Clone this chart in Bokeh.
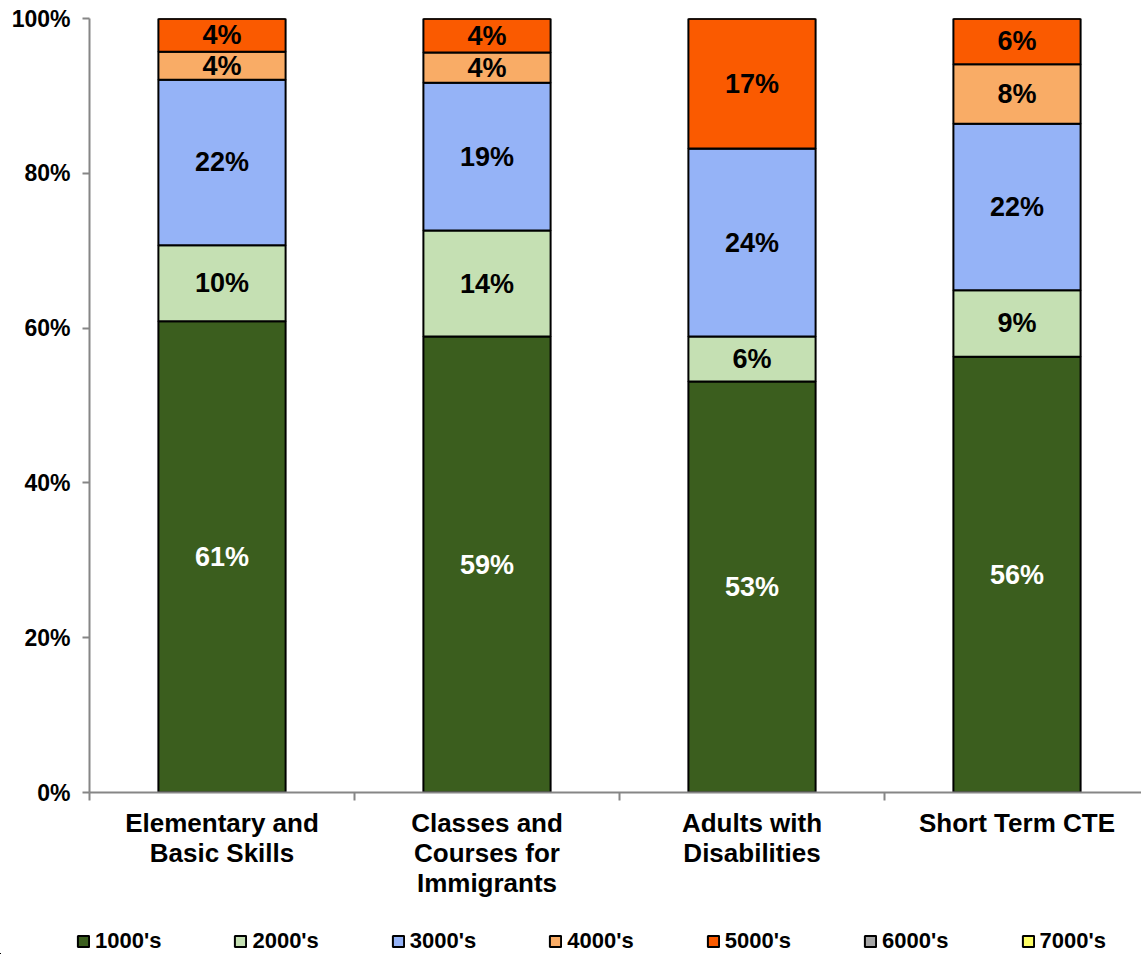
from bokeh.plotting import figure
from bokeh.layouts import column
from bokeh.models import Range1d, FixedTicker, Legend, LegendItem, ColumnDataSource
from bokeh.core.properties import value
from bokeh.embed import file_html
from bokeh.resources import INLINE

categories = ["Elementary and\nBasic Skills", "Classes and\nCourses for\nImmigrants",
              "Adults with\nDisabilities", "Short Term CTE"]
series = ["1000's", "2000's", "3000's", "4000's", "5000's", "6000's", "7000's"]

s1000 = [60.9, 58.9, 53.1, 56.3]
s2000 = [9.8, 13.7, 5.8, 8.6]
s3000 = [21.4, 19.1, 24.3, 21.5]
s4000 = [3.6, 3.9, 0.0, 7.7]
s5000 = [4.3, 4.4, 16.8, 5.9]
s6000 = [0.0, 0.0, 0.0, 0.0]
s7000 = [0.0, 0.0, 0.0, 0.0]

lab1000 = ["61%", "59%", "53%", "56%"]
lab2000 = ["10%", "14%", "6%", "9%"]
lab3000 = ["22%", "19%", "24%", "22%"]
lab4000 = ["4%", "4%", "", "8%"]
lab5000 = ["4%", "4%", "17%", "6%"]

y_ticks = [0, 20, 40, 60, 80, 100]
y_tick_labels = ["0%", "20%", "40%", "60%", "80%", "100%"]

colors = ["#3B5E1E", "#C5E0B3", "#95B3F7", "#F9AC66", "#FA5A00", "#A6A6A6", "#FFFF66"]
label_colors = ["white", "black", "black", "black", "black"]

FONT = "Liberation Sans"

xs = [i + 0.5 for i in range(len(categories))]
data = {"x": xs}
all_vals = [s1000, s2000, s3000, s4000, s5000, s6000, s7000]
for name, vals in zip(series, all_vals):
    data[name] = vals
source = ColumnDataSource(data)

W = 1141
H_MAIN, H_LEG = 915, 39
left, top, bottom = 89, 18, 123
frame_w = W - left
cat_px = 265
p = figure(width=W, height=H_MAIN, output_backend="svg", toolbar_location=None,
           x_range=Range1d(0, frame_w / cat_px), y_range=Range1d(0, 100),
           min_border_left=left, min_border_top=top, min_border_bottom=bottom,
           min_border_right=0)
p.frame_align = False
p.outline_line_color = None
p.xgrid.visible = False
p.ygrid.visible = False

p.vbar_stack(series, x="x", width=0.48, color=colors, line_color="black",
             line_width=2, source=source)

# labels
lx, ly, lt, lc = [], [], [], []
labels = [lab1000, lab2000, lab3000, lab4000, lab5000]
cum = [0.0] * len(categories)
for si, (vals, labs) in enumerate(zip(all_vals[:5], labels)):
    for ci in range(len(categories)):
        if vals[ci] > 0 and labs[ci]:
            lx.append(xs[ci])
            ly.append(cum[ci] + vals[ci] / 2)
            lt.append(labs[ci])
            lc.append(label_colors[si])
        cum[ci] += vals[ci]
p.text(x="x", y="y", text="t", text_color="c",
       source=ColumnDataSource(dict(x=lx, y=ly, t=lt, c=lc)),
       text_align="center", text_baseline="middle",
       text_font=value(FONT), text_font_style="bold", text_font_size="27px")

# axes
axis_color = "#868686"
ya = p.yaxis[0]
ya.ticker = FixedTicker(ticks=y_ticks, minor_ticks=[])
ya.major_label_overrides = {t: l for t, l in zip(y_ticks, y_tick_labels)}
ya.axis_line_color = axis_color
ya.axis_line_width = 2
ya.major_tick_line_color = axis_color
ya.major_tick_line_width = 2
ya.major_tick_in = 0
ya.major_tick_out = 7
ya.minor_tick_line_color = None
ya.major_label_text_font = FONT
ya.major_label_text_font_style = "bold"
ya.major_label_text_font_size = "23px"
ya.major_label_text_color = "black"
ya.major_label_standoff = 12

xa = p.xaxis[0]
xa.ticker = FixedTicker(ticks=xs, minor_ticks=[0, 1, 2, 3, 4])
xa.major_label_overrides = {x: c for x, c in zip(xs, categories)}
xa.axis_line_color = axis_color
xa.axis_line_width = 2
xa.major_tick_line_color = None
xa.major_tick_in = 0
xa.major_tick_out = 0
xa.minor_tick_line_color = axis_color
xa.minor_tick_line_width = 2
xa.minor_tick_in = 0
xa.minor_tick_out = 8
xa.major_label_text_font = FONT
xa.major_label_text_font_style = "bold"
xa.major_label_text_font_size = "26px"
xa.major_label_text_line_height = 1.0
xa.major_label_text_color = "black"
xa.major_label_standoff = 7

# legend strip (separate figure below the chart)
pl = figure(width=W, height=H_LEG, output_backend="svg", toolbar_location=None,
            x_range=Range1d(1000, 1001), y_range=Range1d(1000, 1001),
            x_axis_location=None, y_axis_location=None,
            min_border_left=0, min_border_right=0, min_border_top=0, min_border_bottom=0)
pl.frame_align = False
pl.outline_line_color = None
pl.xgrid.visible = False
pl.ygrid.visible = False
leg_renderers = pl.vbar_stack(series, x="x", width=0.48, color=colors, line_color="black",
                              line_width=2, source=source)  # outside the ranges; swatches only
legend = Legend(items=[LegendItem(label=s, renderers=[r]) for s, r in zip(series, leg_renderers)],
                orientation="horizontal", location=(76, 0),
                label_text_font=FONT, label_text_font_style="bold",
                label_text_font_size="22px", label_text_color="black",
                glyph_width=14, glyph_height=14,
                label_standoff=5, spacing=72, padding=0, margin=0,
                border_line_color=None, background_fill_alpha=0)
pl.add_layout(legend)

layout = column(p, pl, spacing=0)
open("out.html", "w").write(file_html(layout, INLINE))
